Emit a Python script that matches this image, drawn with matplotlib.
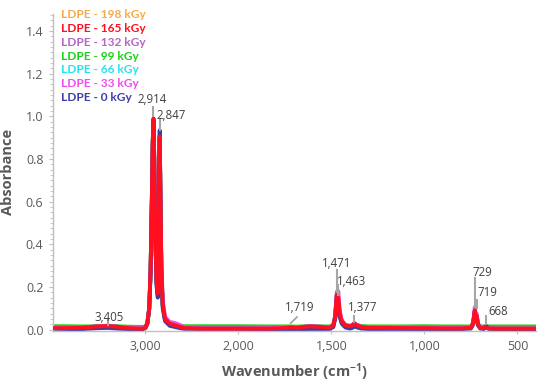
import numpy as np
import matplotlib
matplotlib.use('Agg')
import matplotlib.pyplot as plt
from matplotlib.ticker import FixedLocator, MultipleLocator, FuncFormatter

plt.rcParams['font.family'] = ['Open Sans', 'DejaVu Sans']
plt.rcParams['mathtext.default'] = 'regular'

# wavenumber grid (cm-1), shared by all spectra
wavenumber = [
    4000, 3850, 3700, 3600, 3500, 3405, 3300, 3200, 3100, 3030,
    3000, 2980, 2960, 2945, 2932, 2922, 2914, 2906, 2895, 2880,
    2868, 2858, 2852, 2847, 2840, 2830, 2815, 2790, 2740, 2680,
    2620, 2580, 2400, 2200, 2000, 1850, 1760, 1719, 1690, 1620,
    1560, 1510, 1490, 1480, 1471, 1467, 1463, 1456, 1445, 1425,
    1400, 1385, 1377, 1365, 1340, 1300, 1200, 1100, 1000, 900,
    800, 750, 738, 729, 724, 719, 712, 700, 680, 668,
    655, 600, 500, 400,
]

abs_0kgy = [
    .004, .003, .002, .005, .007, .008, .005, .003, .002, .002,
    .008, .028, .095, .270, .590, .870, .980, .790, .430, .200,
    .150, .390, .790, .935, .640, .280, .100, .040, .018, .012,
    .006, .004, .004, .004, .004, .003, .002, .003, .002, .003,
    .003, .003, .012, .050, .150, .135, .130, .060, .028, .010,
    .005, .009, .018, .011, .005, .003, .003, .003, .003, .003,
    .003, .005, .025, .085, .055, .060, .020, .005, .003, .018,
    .004, .003, .003, .003,
]
abs_33kgy = [
    .008, .008, .010, .013, .016, .018, .014, .009, .007, .007,
    .011, .031, .100, .280, .600, .880, .985, .800, .450, .220,
    .170, .400, .780, .910, .660, .320, .140, .060, .036, .031,
    .020, .010, .007, .007, .007, .007, .009, .012, .010, .016,
    .014, .010, .022, .065, .178, .170, .180, .090, .045, .022,
    .017, .023, .031, .023, .014, .010, .009, .008, .008, .007,
    .007, .011, .034, .105, .070, .075, .028, .011, .008, .009,
    .007, .006, .006, .006,
]
abs_66kgy = [
    .009, .009, .010, .012, .015, .017, .013, .009, .007, .007,
    .010, .029, .098, .275, .595, .875, .980, .795, .445, .215,
    .165, .395, .775, .900, .645, .295, .115, .048, .028, .021,
    .013, .008, .007, .007, .007, .007, .008, .011, .009, .015,
    .013, .009, .019, .058, .160, .145, .145, .076, .038, .019,
    .015, .021, .028, .021, .012, .009, .009, .008, .008, .007,
    .007, .009, .028, .086, .057, .062, .023, .009, .007, .008,
    .007, .006, .006, .006,
]
abs_99kgy = [
    .016, .016, .015, .015, .017, .018, .016, .014, .013, .013,
    .014, .031, .098, .275, .595, .875, .985, .795, .445, .215,
    .165, .395, .775, .900, .645, .295, .115, .048, .028, .022,
    .018, .016, .016, .016, .016, .015, .015, .015, .014, .016,
    .015, .015, .021, .060, .160, .145, .146, .078, .040, .022,
    .018, .022, .029, .022, .017, .015, .015, .015, .016, .015,
    .015, .015, .030, .088, .058, .063, .025, .015, .015, .015,
    .015, .015, .015, .015,
]
abs_132kgy = [
    .008, .008, .010, .012, .015, .017, .013, .009, .006, .006,
    .010, .029, .098, .275, .595, .875, .985, .795, .445, .215,
    .165, .395, .775, .900, .645, .295, .115, .048, .028, .021,
    .013, .008, .006, .006, .006, .006, .008, .011, .009, .015,
    .013, .009, .019, .058, .160, .145, .145, .076, .038, .019,
    .015, .021, .028, .021, .012, .009, .008, .007, .007, .006,
    .006, .009, .028, .086, .057, .062, .023, .009, .007, .008,
    .006, .005, .005, .005,
]
abs_165kgy = [
    .007, .007, .009, .012, .015, .017, .013, .008, .005, .005,
    .010, .030, .100, .280, .600, .880, .990, .800, .450, .220,
    .170, .400, .780, .905, .650, .300, .120, .050, .028, .020,
    .012, .007, .005, .005, .005, .005, .007, .011, .009, .015,
    .013, .009, .020, .060, .165, .150, .150, .080, .040, .020,
    .015, .021, .030, .021, .012, .009, .008, .007, .007, .006,
    .006, .009, .030, .090, .060, .065, .025, .009, .007, .008,
    .006, .005, .005, .005,
]
abs_198kgy = [
    .008, .008, .010, .012, .015, .017, .013, .009, .006, .006,
    .010, .029, .098, .275, .595, .875, .985, .795, .445, .215,
    .165, .395, .775, .900, .645, .295, .115, .048, .028, .021,
    .013, .008, .006, .006, .006, .006, .008, .011, .009, .015,
    .013, .009, .019, .058, .160, .145, .145, .076, .038, .019,
    .015, .021, .028, .021, .012, .009, .008, .007, .007, .006,
    .006, .009, .028, .086, .057, .062, .023, .009, .007, .008,
    .006, .005, .005, .005,
]

series_labels = ['LDPE - 198 kGy', 'LDPE - 165 kGy', 'LDPE - 132 kGy', 'LDPE - 99 kGy',
                 'LDPE - 66 kGy', 'LDPE - 33 kGy', 'LDPE - 0 kGy']
series_values = [abs_198kgy, abs_165kgy, abs_132kgy, abs_99kgy, abs_66kgy, abs_33kgy, abs_0kgy]
series_colors = ['#F8A94A', '#FF0F1F', '#B366C6', '#19D219', '#25E3EE', '#F04CF0', '#3E3EA8']
draw_order = [0, 2, 4, 3, 5, 6, 1]  # red (165 kGy) ends up on top

# peak annotations: label, wavenumber
peak_labels = ['3,405', '2,914', '2,847', '1,719', '1,471', '1,463', '1,377', '729', '719', '668']
peak_wn = [3405, 2914, 2847, 1719, 1471, 1463, 1377, 729, 719, 668]
# layout: text position (wn, abs), leader bottom / top
text_pos = [(3392, 0.059), (2930, 1.081), (2726, 1.006), (1669, 0.106), (1470, 0.311),
            (1390, 0.228), (1331, 0.106), (691, 0.270), (659, 0.172), (605, 0.083)]
leader_lo = [0.020, 1.000, 0.936, 0.031, 0.176, 0.162, 0.036, 0.106, 0.100, 0.026]
leader_hi = [0.045, 1.043, 0.990, 0.059, 0.280, 0.209, 0.064, 0.242, 0.139, 0.064]


def fwd(w):
    w = np.asarray(w, dtype=float)
    return np.where(w > 2000, 2000 + (w - 2000) / 2.0, w)


def inv(p):
    p = np.asarray(p, dtype=float)
    return np.where(p > 2000, 2000 + 2.0 * (p - 2000), p)


TXT = '#595959'
fig = plt.figure(figsize=(5.5, 3.87), dpi=100)
ax = fig.add_axes([0.0955, 0.1455, 0.879, 0.8183])

wn = np.array(wavenumber)
for i in draw_order:
    ax.plot(wn, series_values[i], color=series_colors[i], lw=2.8,
            solid_joinstyle='round', zorder=2 + (i == 1))

ax.set_xscale('function', functions=(fwd, inv))
ax.set_xlim(4000, 400)
ax.set_ylim(-0.005, 1.48)

for k, lab in enumerate(peak_labels):
    if lab == '1,719':
        ax.plot([peak_wn[k], 1685], [leader_lo[k], leader_hi[k]], color='#A6A6A6', lw=1.3, zorder=4)
    else:
        ax.plot([peak_wn[k], peak_wn[k]], [leader_lo[k], leader_hi[k]], color='#A6A6A6', lw=1.5, zorder=4)
    ax.text(text_pos[k][0], text_pos[k][1], lab, ha='center', va='center',
            fontsize=8.3, color='#404040', zorder=5)

ax.xaxis.set_major_locator(FixedLocator([3000, 2000, 1500, 1000, 500]))
ax.xaxis.set_minor_locator(FixedLocator([]))
ax.xaxis.set_major_formatter(FuncFormatter(lambda v, p: f'{int(round(v)):,}'))
ax.yaxis.set_major_locator(MultipleLocator(0.2))
ax.yaxis.set_minor_locator(MultipleLocator(0.025))
ax.yaxis.set_major_formatter(FuncFormatter(lambda v, p: f'{v:.1f}'))

for s in ['top', 'right']:
    ax.spines[s].set_visible(False)
for s in ['left', 'bottom']:
    ax.spines[s].set_color('#BFBFBF')
    ax.spines[s].set_linewidth(1.0)
ax.tick_params(axis='both', which='major', colors='#BFBFBF', labelcolor=TXT, labelsize=9, length=3)
ax.tick_params(axis='y', which='minor', colors='#BFBFBF', length=2)
ax.tick_params(axis='x', which='major', direction='inout', length=5, pad=4)

ax.set_xlabel('Wavenumber (cm$^{-1}$)', fontsize=10.5, fontweight='bold', color=TXT, labelpad=6)
ax.set_ylabel('Absorbance', fontsize=10.5, fontweight='bold', color=TXT, labelpad=8)

# legend as coloured text entries
for k, lab in enumerate(series_labels):
    fig.text(61 / 550, 1 - (15 + 13.7 * k) / 387, lab, color=series_colors[k],
             fontsize=8.6, fontweight='bold', family=['Lato', 'DejaVu Sans'],
             ha='left', va='center')

fig.savefig('out.png', dpi=100)
